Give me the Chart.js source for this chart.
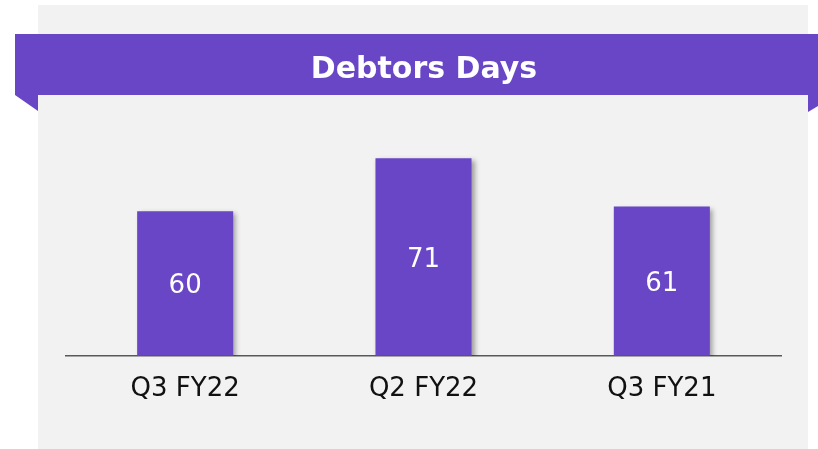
<!DOCTYPE html>
<html>
<head>
<meta charset="utf-8">
<script src="https://cdn.jsdelivr.net/npm/chart.js@4"></script>
<style>
  html, body { margin: 0; padding: 0; background: #fff; }
  #wrap { width: 818px; height: 449px; }
</style>
</head>
<body>
<div id="wrap"><canvas id="debtors"></canvas></div>
<script>
var chartTitle = "Debtors Days";
var quarters = ["Q3 FY22", "Q2 FY22", "Q3 FY21"];
var debtorDays = [60, 71, 61];
var barColor = "#6946C6";

// panel, banner with folded corners, title
var backdrop = {
  id: "backdrop",
  beforeDraw: function (chart) {
    var c = chart.ctx;
    c.save();
    c.fillStyle = "#ffffff";
    c.fillRect(0, 0, chart.width, chart.height);
    c.fillStyle = "#f2f2f2";
    c.fillRect(38, 5, 770, 444);
    c.fillStyle = barColor;
    c.fillRect(15, 34, 803, 61);
    c.beginPath();
    c.moveTo(15, 95); c.lineTo(38, 95); c.lineTo(38, 111); c.closePath();
    c.fill();
    c.beginPath();
    c.moveTo(808, 95); c.lineTo(818, 95); c.lineTo(818, 106); c.lineTo(808, 112); c.closePath();
    c.fill();
    c.fillStyle = "#ffffff";
    c.font = "bold 30px 'DejaVu Sans', Verdana, sans-serif";
    c.textAlign = "center";
    c.textBaseline = "alphabetic";
    c.fillText(chartTitle, 424, 78);
    c.restore();
  }
};

// soft drop shadow on bars + value labels inside
var barExtras = {
  id: "barExtras",
  beforeDatasetsDraw: function (chart) {
    var c = chart.ctx;
    c.save();
    c.shadowColor = "rgba(0,0,0,0.35)";
    c.shadowBlur = 5;
    c.shadowOffsetX = 3;
    c.shadowOffsetY = 2;
  },
  afterDatasetsDraw: function (chart) {
    var c = chart.ctx;
    c.restore();
    var meta = chart.getDatasetMeta(0);
    var bottom = chart.chartArea.bottom;
    c.save();
    c.fillStyle = "#ffffff";
    c.font = "26px 'DejaVu Sans', Verdana, sans-serif";
    c.textAlign = "center";
    c.textBaseline = "middle";
    meta.data.forEach(function (bar, i) {
      c.fillText(String(debtorDays[i]), bar.x, (bar.y + bottom) / 2 + 3);
    });
    c.restore();
  }
};

new Chart(document.getElementById("debtors"), {
  type: "bar",
  data: {
    labels: quarters,
    datasets: [{
      label: chartTitle,
      data: debtorDays,
      backgroundColor: barColor,
      borderWidth: 0,
      barPercentage: 0.403,
      categoryPercentage: 1
    }]
  },
  options: {
    responsive: true,
    maintainAspectRatio: false,
    animation: false,
    layout: { padding: { top: 115, left: 66, right: 37, bottom: 26 } },
    plugins: {
      legend: { display: false },
      tooltip: { enabled: false }
    },
    scales: {
      x: {
        grid: { display: false, drawTicks: false },
        border: { display: true, color: "#595959", width: 1.5 },
        ticks: {
          color: "#111",
          padding: 18,
          font: { family: "'DejaVu Sans', Verdana, sans-serif", size: 26 }
        }
      },
      y: {
        display: false,
        min: 30,
        max: 80
      }
    }
  },
  plugins: [backdrop, barExtras]
});
</script>
</body>
</html>
